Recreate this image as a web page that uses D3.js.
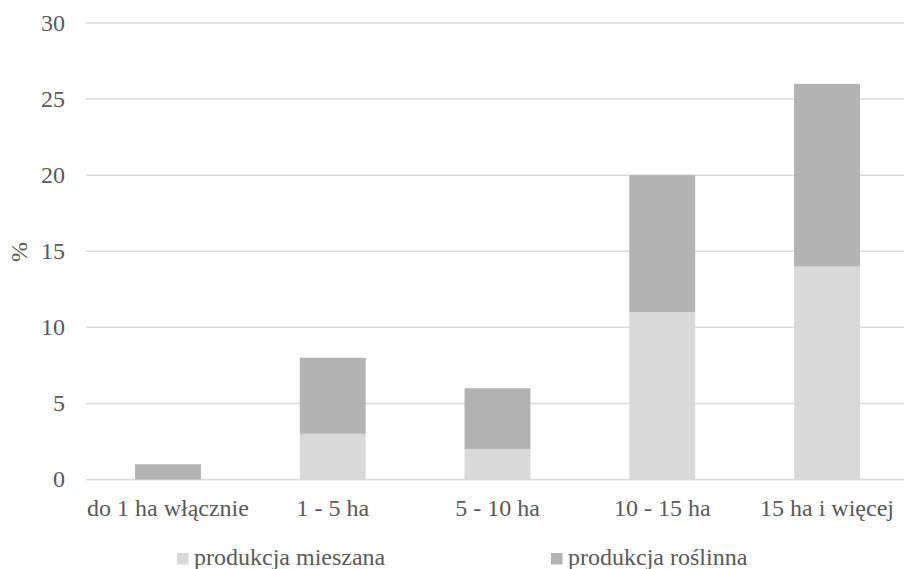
<!DOCTYPE html>
<html><head><meta charset="utf-8">
<script src="https://cdn.jsdelivr.net/npm/d3@7"></script>
<style>body{margin:0;background:#fff}</style>
</head><body>
<svg id="c" width="904" height="569" font-family="Liberation Serif" font-size="24" fill="#595959"></svg>
<script>
const categories = ["do 1 ha włącznie", "1 - 5 ha", "5 - 10 ha", "10 - 15 ha", "15 ha i więcej"];
const mixed = [0, 3, 2, 11, 14];
const plant = [1, 5, 4, 9, 12];
const seriesNames = ["produkcja mieszana", "produkcja roślinna"];
const colors = ["#d9d9d9", "#b3b3b3"];
const yTicks = [0, 5, 10, 15, 20, 25, 30];

const svg = d3.select("#c");
const FONT = "Liberation Serif";

const x = d3.scaleBand().domain(categories).range([85.6, 909.4]).paddingInner(0.6).paddingOuter(0.3);
const y = d3.scaleLinear().domain([0, 30]).range([479.5, 23]);

svg.append("g").selectAll("line").data(yTicks).join("line")
  .attr("x1", 86).attr("x2", 904)
  .attr("y1", d => y(d)).attr("y2", d => y(d))
  .attr("stroke", "#d9d9d9").attr("stroke-width", 1.5);

svg.append("g").selectAll("text").data(yTicks).join("text")
  .style("font-family", FONT).style("font-size", "24px").attr("fill", "#595959")
  .attr("x", 65).attr("y", d => y(d)).attr("dy", "0.33em")
  .attr("text-anchor", "end").text(d => d);

const rows = categories.map((c, i) => ({cat: c, mixed: mixed[i], plant: plant[i]}));
const stack = d3.stack().keys(["mixed", "plant"])(rows);
svg.append("g").selectAll("g").data(stack).join("g")
  .attr("fill", (d, i) => colors[i])
  .selectAll("rect").data(d => d).join("rect")
  .attr("x", d => x(d.data.cat))
  .attr("width", x.bandwidth())
  .attr("y", d => y(d[1]))
  .attr("height", d => y(d[0]) - y(d[1]));

svg.append("g").selectAll("text").data(categories).join("text")
  .style("font-family", FONT).style("font-size", "24px").attr("fill", "#595959")
  .attr("x", d => x(d) + x.bandwidth() / 2).attr("y", 516)
  .attr("text-anchor", "middle").text(d => d);

svg.append("text").attr("transform", "translate(27,252) rotate(-90)")
  .style("font-family", FONT).style("font-size", "24px").attr("fill", "#595959")
  .attr("text-anchor", "middle").text("%");

const legendX = [177, 551];
const lg = svg.append("g").selectAll("g").data(seriesNames).join("g")
  .attr("transform", (d, i) => `translate(${legendX[i]},0)`);
lg.append("rect").attr("x", 0).attr("y", 553).attr("width", 11.5).attr("height", 11.5)
  .attr("fill", (d, i) => colors[i]);
lg.append("text").style("font-family", FONT).style("font-size", "24px").attr("fill", "#595959")
  .attr("x", 17).attr("y", 565).text(d => d);
</script>
</body></html>
